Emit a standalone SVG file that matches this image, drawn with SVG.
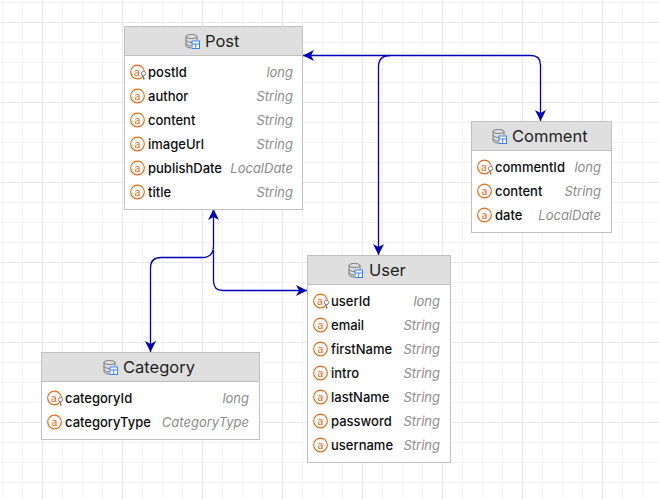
<svg xmlns="http://www.w3.org/2000/svg" xmlns:xlink="http://www.w3.org/1999/xlink" width="659" height="499" viewBox="0 0 659 499">
<style>
text{font-family:Inter,"Noto Sans","Liberation Sans",sans-serif}
.box{fill:#fff;stroke:#c0c0c0;stroke-width:1}
.head{fill:#dfdfdf}
.sep{stroke:#c0c0c0;stroke-width:1}
.title{font-size:16.5px;fill:#1f1f1f}
.f{font-size:13px;font-weight:500;fill:#0d0d0d}
.t{font-size:13px;font-style:italic;fill:#8c8c8c;text-anchor:end}
.conn{fill:none;stroke:#0000b4;stroke-width:1.300}
.a{font-size:10.500px;fill:#e8691b;text-anchor:middle}
</style>
<defs>
<pattern id="minor" width="20" height="20" patternUnits="userSpaceOnUse" x="2" y="2"><path d="M.5 0V20M0 .5H20" fill="none" stroke="#f4f4f4" stroke-width="1"/></pattern>
<pattern id="major" width="80" height="80" patternUnits="userSpaceOnUse" x="42" y="22"><path d="M.5 0V80M0 .5H80" fill="none" stroke="#e8e8e8" stroke-width="1"/></pattern>
<marker id="arrow" markerWidth="12" markerHeight="11" refX="11" refY="5.500" orient="auto" markerUnits="userSpaceOnUse"><path d="M0 0L11 5.500L0 11L3 5.500Z" fill="#0000b4"/></marker>
<marker id="arrowS" markerWidth="12" markerHeight="11" refX="11" refY="5.500" orient="auto-start-reverse" markerUnits="userSpaceOnUse"><path d="M0 0L11 5.500L0 11L3 5.500Z" fill="#0000b4"/></marker>
<g id="attr"><circle cx="0" cy="0" r="6.800" fill="#fff" stroke="#e8691b" stroke-width="1.200"/><text class="a" x="0" y="3.500">a</text></g>
<g id="key"><circle cx="0" cy="0" r="6.800" fill="#fff" stroke="#e8691b" stroke-width="1.200"/><text class="a" x="-0.500" y="3.500">a</text><circle cx="6" cy="1.500" r="2.200" fill="#fff" stroke="#777" stroke-width=".9"/><path d="M6 3.700V7.500M6 6.800H7.600" fill="none" stroke="#777" stroke-width=".9"/></g>
<g id="db"><ellipse cx="6.500" cy="2.500" rx="5.500" ry="2" fill="none" stroke="#777" stroke-width="1"/><path d="M1 2.500V11.500C1 13 3.500 14 6 14M1 6C1 7.500 4 8.500 7 8.500 9 8.500 11 8 12 7M1 9.500C1 11 3.500 12 6 12M12 2.500V6" fill="none" stroke="#777" stroke-width="1"/><rect x="7" y="7" width="7.500" height="7.500" fill="#fff" stroke="#3b82f0" stroke-width="1"/><path d="M7 10H14.500M10.700 10V14.500" stroke="#3b82f0" stroke-width="1"/></g>
</defs>
<rect width="659" height="499" fill="#fff"/>
<rect width="659" height="499" fill="url(#minor)"/>
<rect width="659" height="499" fill="url(#major)"/>
<g id="connectors">
<path class="conn" marker-start="url(#arrowS)" marker-end="url(#arrow)" d="M303 55.500H531Q540.500 55.500 540.500 65V121"/>
<path class="conn" marker-end="url(#arrow)" d="M390 55.500Q378.500 55.500 378.500 67V255"/>
<path class="conn" marker-start="url(#arrowS)" marker-end="url(#arrow)" d="M213.500 209V246Q213.500 257.500 202 257.500H161Q150.500 257.500 150.500 268V352"/>
<path class="conn" marker-end="url(#arrow)" d="M213.500 250V281Q213.500 290.500 223 290.500H307"/>
</g>
<g id="node-post">
<rect class="box" x="124.500" y="26.500" width="178" height="183"/>
<rect class="head" x="125" y="27" width="177" height="28"/>
<path class="sep" d="M125 55.500H302"/>
<use xlink:href="#db" x="185" y="34"/>
<text class="title" x="205" y="47">Post</text>
<use xlink:href="#key" x="137.500" y="72"/><text class="f" x="148" y="77">postId</text><text class="t" x="293" y="77">long</text>
<use xlink:href="#attr" x="137.500" y="96"/><text class="f" x="148" y="101">author</text><text class="t" x="293" y="101">String</text>
<use xlink:href="#attr" x="137.500" y="120"/><text class="f" x="148" y="125">content</text><text class="t" x="293" y="125">String</text>
<use xlink:href="#attr" x="137.500" y="144"/><text class="f" x="148" y="149">imageUrl</text><text class="t" x="293" y="149">String</text>
<use xlink:href="#attr" x="137.500" y="168"/><text class="f" x="148" y="173">publishDate</text><text class="t" x="293" y="173">LocalDate</text>
<use xlink:href="#attr" x="137.500" y="192"/><text class="f" x="148" y="197">title</text><text class="t" x="293" y="197">String</text>
</g>
<g id="node-comment">
<rect class="box" x="471.500" y="121.500" width="140" height="111"/>
<rect class="head" x="472" y="122" width="139" height="28"/>
<path class="sep" d="M472 150.500H611"/>
<use xlink:href="#db" x="492" y="129"/>
<text class="title" x="512" y="142">Comment</text>
<use xlink:href="#key" x="484.500" y="167"/><text class="f" x="495" y="172">commentId</text><text class="t" x="601" y="172">long</text>
<use xlink:href="#attr" x="484.500" y="191"/><text class="f" x="495" y="196">content</text><text class="t" x="601" y="196">String</text>
<use xlink:href="#attr" x="484.500" y="215"/><text class="f" x="495" y="220">date</text><text class="t" x="601" y="220">LocalDate</text>
</g>
<g id="node-user">
<rect class="box" x="307.500" y="255.500" width="143" height="207"/>
<rect class="head" x="308" y="256" width="142" height="28"/>
<path class="sep" d="M308 284.500H450"/>
<use xlink:href="#db" x="348" y="263"/>
<text class="title" x="369" y="276">User</text>
<use xlink:href="#key" x="320.500" y="301"/><text class="f" x="331" y="306">userId</text><text class="t" x="440" y="306">long</text>
<use xlink:href="#attr" x="320.500" y="325"/><text class="f" x="331" y="330">email</text><text class="t" x="440" y="330">String</text>
<use xlink:href="#attr" x="320.500" y="349"/><text class="f" x="331" y="354">firstName</text><text class="t" x="440" y="354">String</text>
<use xlink:href="#attr" x="320.500" y="373"/><text class="f" x="331" y="378">intro</text><text class="t" x="440" y="378">String</text>
<use xlink:href="#attr" x="320.500" y="397"/><text class="f" x="331" y="402">lastName</text><text class="t" x="440" y="402">String</text>
<use xlink:href="#attr" x="320.500" y="421"/><text class="f" x="331" y="426">password</text><text class="t" x="440" y="426">String</text>
<use xlink:href="#attr" x="320.500" y="445"/><text class="f" x="331" y="450">username</text><text class="t" x="440" y="450">String</text>
</g>
<g id="node-category">
<rect class="box" x="41.500" y="352.500" width="218" height="87"/>
<rect class="head" x="42" y="353" width="217" height="28"/>
<path class="sep" d="M42 381.500H259"/>
<use xlink:href="#db" x="103" y="360"/>
<text class="title" x="123" y="373">Category</text>
<use xlink:href="#key" x="54.500" y="398"/><text class="f" x="65" y="403">categoryId</text><text class="t" x="249" y="403">long</text>
<use xlink:href="#attr" x="54.500" y="422"/><text class="f" x="65" y="427">categoryType</text><text class="t" x="249" y="427">CategoryType</text>
</g>
</svg>
